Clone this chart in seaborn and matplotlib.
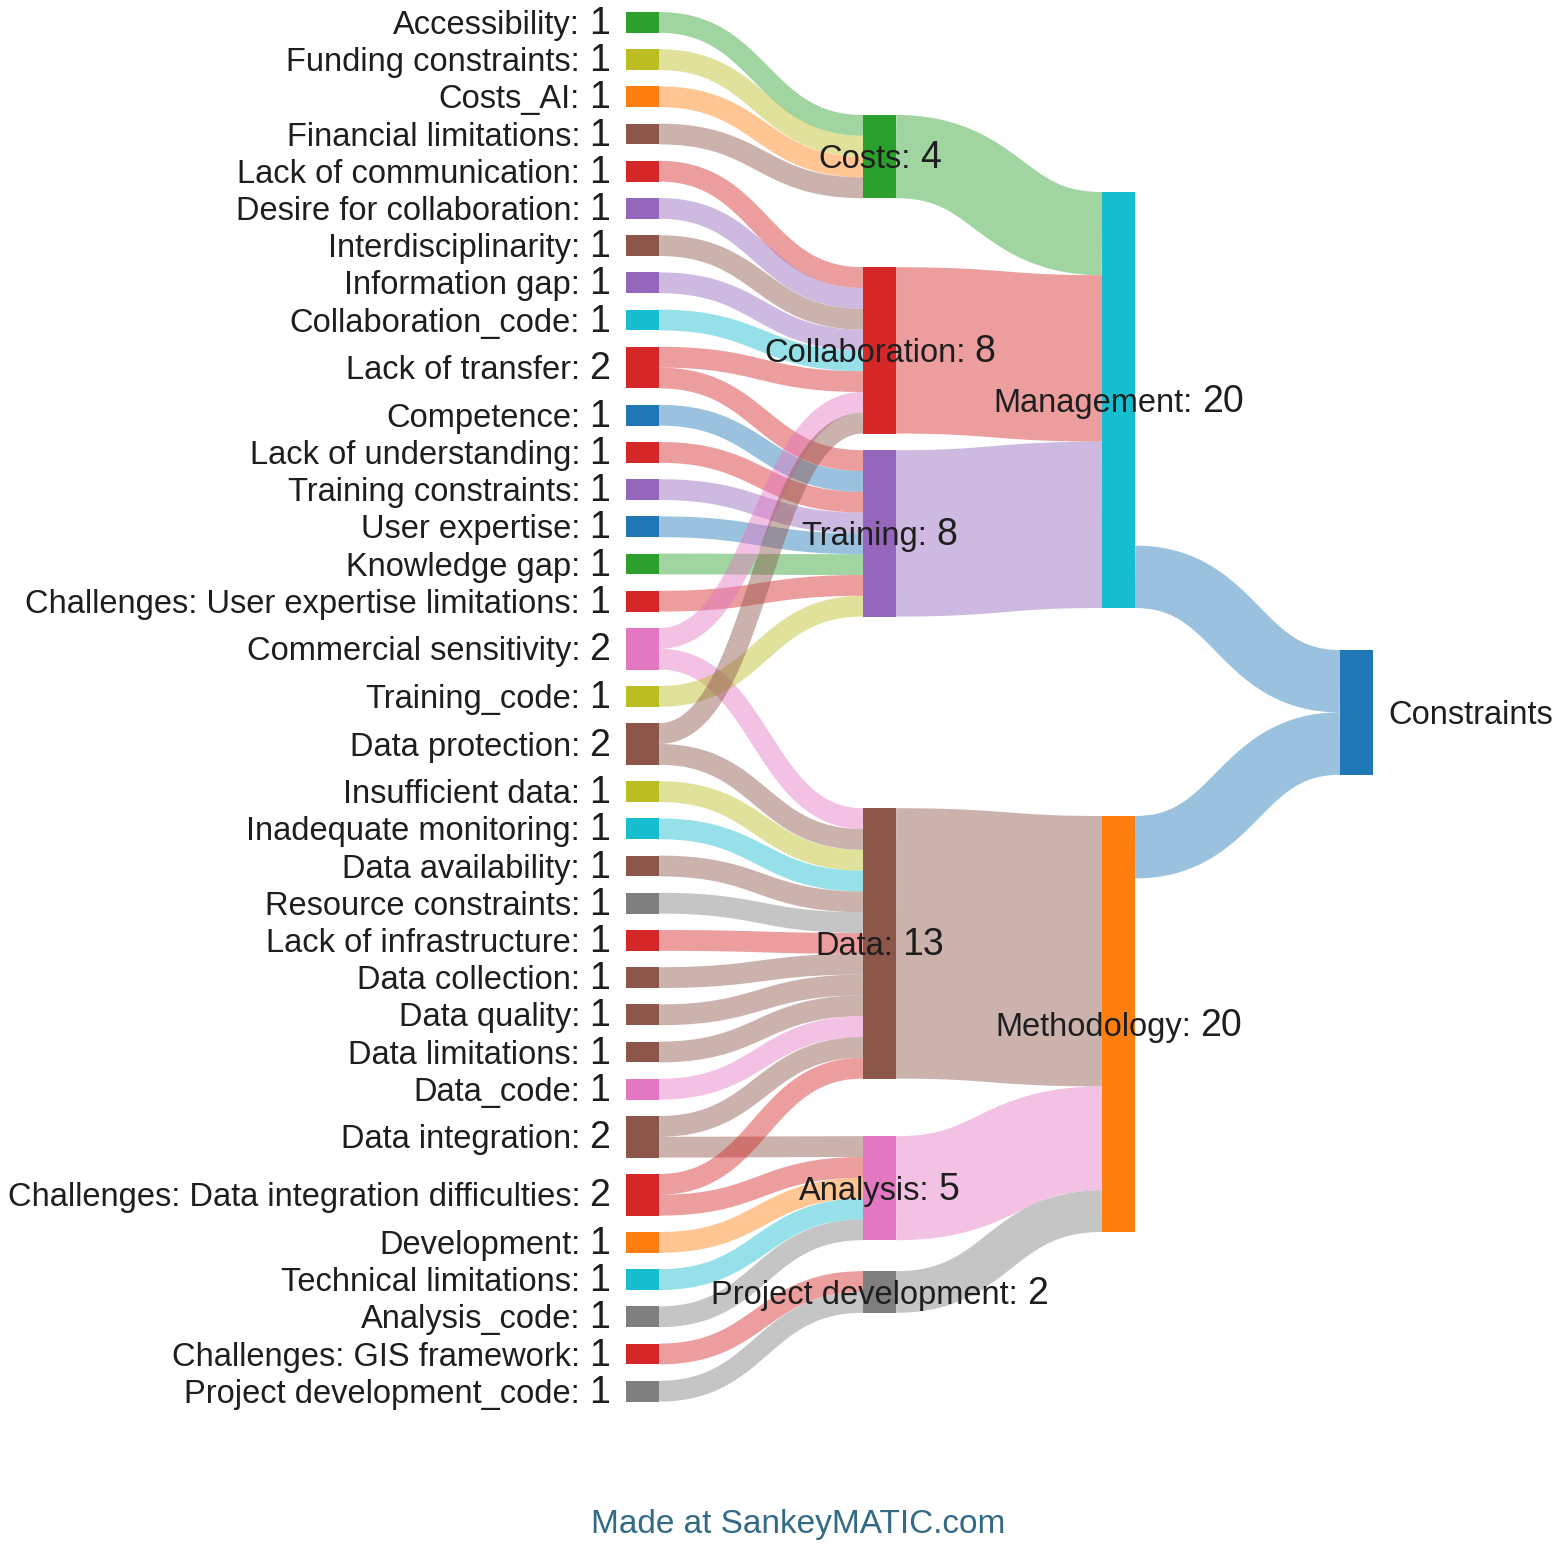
import numpy as np
import matplotlib
matplotlib.use("Agg")
import matplotlib.pyplot as plt
import seaborn as sns

# ---------------- data ----------------
leaf_names = [
    "Accessibility", "Funding constraints", "Costs_AI", "Financial limitations",
    "Lack of communication", "Desire for collaboration", "Interdisciplinarity",
    "Information gap", "Collaboration_code", "Lack of transfer", "Competence",
    "Lack of understanding", "Training constraints", "User expertise",
    "Knowledge gap", "Challenges: User expertise limitations",
    "Commercial sensitivity", "Training_code", "Data protection",
    "Insufficient data", "Inadequate monitoring", "Data availability",
    "Resource constraints", "Lack of infrastructure", "Data collection",
    "Data quality", "Data limitations", "Data_code", "Data integration",
    "Challenges: Data integration difficulties", "Development",
    "Technical limitations", "Analysis_code", "Challenges: GIS framework",
    "Project development_code",
]
leaf_colors = [
    "green", "olive", "orange", "brown", "red", "purple", "brown", "purple",
    "cyan", "red", "blue", "red", "purple", "blue", "green", "red", "pink",
    "olive", "brown", "olive", "cyan", "brown", "gray", "red", "brown",
    "brown", "brown", "pink", "brown", "red", "orange", "cyan", "gray",
    "red", "gray",
]

group_names = ["Costs", "Collaboration", "Training", "Data", "Analysis",
               "Project development"]
group_colors = ["green", "red", "purple", "brown", "pink", "gray"]

theme_names = ["Management", "Methodology"]
theme_colors = ["cyan", "orange"]

root_names = ["Constraints"]
root_colors = ["blue"]

flow_src = [
    "Accessibility", "Funding constraints", "Costs_AI", "Financial limitations",
    "Lack of communication", "Desire for collaboration", "Interdisciplinarity",
    "Information gap", "Collaboration_code", "Lack of transfer",
    "Lack of transfer", "Competence", "Lack of understanding",
    "Training constraints", "User expertise", "Knowledge gap",
    "Challenges: User expertise limitations", "Commercial sensitivity",
    "Commercial sensitivity", "Training_code", "Data protection",
    "Data protection", "Insufficient data", "Inadequate monitoring",
    "Data availability", "Resource constraints", "Lack of infrastructure",
    "Data collection", "Data quality", "Data limitations", "Data_code",
    "Data integration", "Data integration",
    "Challenges: Data integration difficulties",
    "Challenges: Data integration difficulties", "Development",
    "Technical limitations", "Analysis_code", "Challenges: GIS framework",
    "Project development_code",
    "Costs", "Collaboration", "Training", "Data", "Analysis",
    "Project development", "Management", "Methodology",
]
flow_dst = [
    "Costs", "Costs", "Costs", "Costs",
    "Collaboration", "Collaboration", "Collaboration", "Collaboration",
    "Collaboration", "Collaboration", "Training", "Training", "Training",
    "Training", "Training", "Training", "Training", "Collaboration", "Data",
    "Training", "Collaboration", "Data", "Data", "Data", "Data", "Data",
    "Data", "Data", "Data", "Data", "Data", "Data", "Analysis", "Data",
    "Analysis", "Analysis", "Analysis", "Analysis", "Project development",
    "Project development",
    "Management", "Management", "Management", "Methodology", "Methodology",
    "Methodology", "Constraints", "Constraints",
]
flow_val = [1] * 40 + [4, 8, 8, 13, 5, 2, 3, 3]

# ---------------- layout / style ----------------
px_per_unit = 20.8
node_w = 33
col_x = [626, 863, 1102, 1340]
col_top = [12, 115, 192, 650]
col_gaps = [
    [16.4] * (len(leaf_names) - 1),
    [69, 16.6, 191.6, 57.6, 31],
    [208],
    [],
]
link_alpha = 0.45
txt_color = "#1e1e1e"
fs_name = 23.5
fs_val = 27

sns.set_theme(style="white")
plt.rcParams["font.family"] = ["Liberation Sans", "DejaVu Sans"]

tab = dict(zip(["blue", "orange", "green", "red", "purple", "brown", "pink",
                "gray", "olive", "cyan"], sns.color_palette("tab10")))

columns = [leaf_names, group_names, theme_names, root_names]
col_colors = [leaf_colors, group_colors, theme_colors, root_colors]

node_col, node_color = {}, {}
for c, (names, cols) in enumerate(zip(columns, col_colors)):
    for n, k in zip(names, cols):
        node_col[n] = c
        node_color[n] = tab[k]

flows = list(zip(flow_src, flow_dst, flow_val))
val_in = {n: 0 for n in node_col}
val_out = {n: 0 for n in node_col}
for s, d, v in flows:
    val_out[s] += v
    val_in[d] += v
node_val = {n: max(val_in[n], val_out[n]) for n in node_col}

# stack nodes in each column
node_y = {}
for c, names in enumerate(columns):
    y = col_top[c]
    gaps = col_gaps[c] + [0]
    for n, g in zip(names, gaps):
        node_y[n] = y
        y += node_val[n] * px_per_unit + g


def center(n):
    return node_y[n] + node_val[n] * px_per_unit / 2


# link slots at both ends
out_start, in_start = {}, {}
for n in node_col:
    outs = sorted([f for f in flows if f[0] == n], key=lambda f: center(f[1]))
    y = node_y[n]
    if outs and val_out[n] < node_val[n] and center(outs[0][1]) > center(n):
        y += (node_val[n] - val_out[n]) * px_per_unit
    for f in outs:
        out_start[f] = y
        y += f[2] * px_per_unit
    ins = sorted([f for f in flows if f[1] == n], key=lambda f: center(f[0]))
    y = node_y[n]
    for f in ins:
        in_start[f] = y
        y += f[2] * px_per_unit

fig = plt.figure(figsize=(15.6, 15.5), dpi=100)
ax = fig.add_axes([0, 0, 1, 1])
ax.set_xlim(0, 1560)
ax.set_ylim(1550, 0)
ax.axis("off")

t = np.linspace(0, 1, 120)
for f in flows:
    s, d, v = f
    x0 = col_x[node_col[s]] + node_w
    x1 = col_x[node_col[d]]
    xm = (x0 + x1) / 2
    y0 = out_start[f] + v * px_per_unit / 2
    y1 = in_start[f] + v * px_per_unit / 2
    xs = (1 - t) ** 3 * x0 + 3 * (1 - t) ** 2 * t * xm + 3 * (1 - t) * t ** 2 * xm + t ** 3 * x1
    ys = (1 - t) ** 3 * y0 + 3 * (1 - t) ** 2 * t * y0 + 3 * (1 - t) * t ** 2 * y1 + t ** 3 * y1
    color = node_color[d] if d in root_names else node_color[s]
    sns.lineplot(x=xs, y=ys, estimator=None, sort=False, ax=ax, color=color,
                 alpha=link_alpha, linewidth=v * px_per_unit * 0.72,
                 solid_capstyle="butt")

for n in node_col:
    ax.bar(col_x[node_col[n]], node_val[n] * px_per_unit, bottom=node_y[n],
           width=node_w, align="edge", color=node_color[n], linewidth=0)

renderer = fig.canvas.get_renderer()


def put_label(name, value, x, y, how):
    base = y + 0.716 * fs_name * 100 / 72 / 2
    t1 = ax.text(0, base, name + ":" if value is not None else name,
                 fontsize=fs_name, color=txt_color, va="baseline", ha="left")
    w1 = t1.get_window_extent(renderer=renderer).width
    if value is None:
        t1.set_x(x)
        return
    t2 = ax.text(0, base, str(value), fontsize=fs_val, color=txt_color,
                 va="baseline", ha="left")
    w2 = t2.get_window_extent(renderer=renderer).width
    gap = 9
    if how == "right":
        start = x - w2 - gap - w1
    else:
        start = x - (w1 + gap + w2) / 2
    t1.set_x(start)
    t2.set_x(start + w1 + gap)


for n in leaf_names:
    put_label(n, node_val[n], col_x[0] - 16, center(n), "right")
for n in group_names + theme_names:
    put_label(n, node_val[n], col_x[node_col[n]] + node_w / 2, center(n), "center")
for n in root_names:
    put_label(n, None, col_x[3] + node_w + 15, center(n), "left")

ax.text(798, 1533, "Made at SankeyMATIC.com", ha="center", va="baseline",
        fontsize=24, color="#336b87")

fig.savefig("out.png", dpi=100)
